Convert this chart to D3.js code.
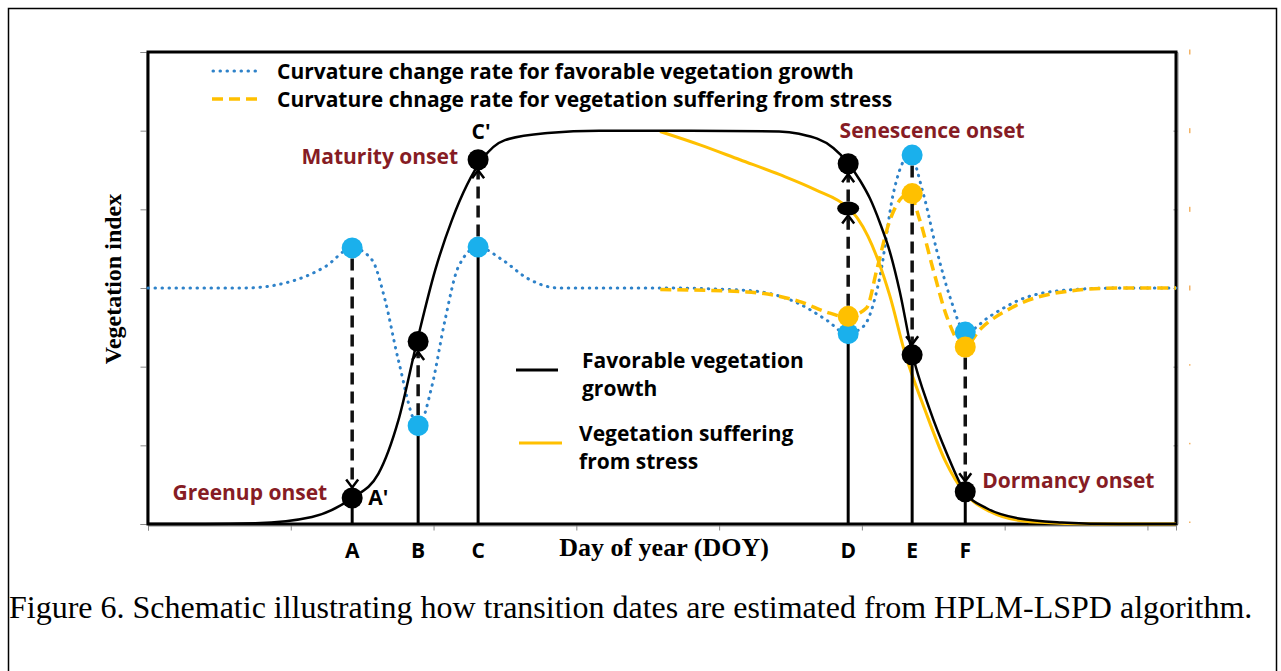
<!DOCTYPE html>
<html>
<head>
<meta charset="utf-8">
<script src="https://cdn.jsdelivr.net/npm/d3@7/dist/d3.min.js"></script>
<style>
  body { margin: 0; background: #fff; }
  svg { display: block; }
</style>
</head>
<body>
<div id="chart"></div>
<script>
// axis ticks
var doyTicks = [0, 50, 100, 150, 200, 250, 300, 350];
var viTicks = [0, 1, 2, 3, 4, 5, 6];

// favorable vegetation growth (black)
var favDoy = [0, 20, 37.6, 57.4, 71.4, 80.7, 87.7, 94.2, 100.6, 106.4, 116.9, 125, 140, 158, 190, 221, 228, 240, 245.1, 249.3, 252.8, 256.3, 259.8, 263.3, 267.5, 273.8, 279.7, 286, 293.7, 305, 320, 340, 360];
var favVi = [0.0, 0.0, 0.01, 0.09, 0.33, 0.64, 1.32, 2.32, 3.23, 3.86, 4.63, 4.88, 4.97, 5.0, 5.0, 4.99, 4.96, 4.78, 4.59, 4.37, 4.14, 3.83, 3.46, 2.95, 2.19, 1.45, 0.90, 0.41, 0.20, 0.07, 0.02, 0.0, 0.0];

// vegetation suffering from stress (yellow)
var stressDoy = [179.3, 193.3, 207.3, 221.3, 233.6, 245.1, 248.6, 252.1, 255.6, 259.8, 265.1, 272.1, 279.1, 286.1, 294.8, 308.8, 333.3, 360];
var stressVi = [4.99, 4.82, 4.63, 4.44, 4.25, 4.02, 3.88, 3.66, 3.36, 2.90, 2.17, 1.45, 0.81, 0.39, 0.16, 0.03, 0.0, 0.0];

// curvature change rate, favorable (blue dotted)
var favRateDoy = [0, 34, 51.6, 62, 71.6, 78.4, 83, 87.7, 94.7, 99.4, 104, 108.7, 115.5, 124, 133, 144, 180, 209.7, 228, 237.7, 244.7, 250.5, 256.3, 261, 266.8, 271.5, 276.2, 280.8, 286.4, 294.8, 305.3, 320.4, 340, 360];
var favRateVi = [3.0, 3.0, 3.1, 3.27, 3.51, 3.36, 2.85, 2.08, 1.25, 1.75, 2.59, 3.27, 3.52, 3.36, 3.12, 3.0, 3.0, 2.97, 2.8, 2.59, 2.42, 2.51, 3.14, 4.2, 4.69, 4.2, 3.48, 2.89, 2.44, 2.64, 2.85, 2.97, 3.0, 3.0];

// curvature change rate, stress (yellow dashed)
var stressRateDoy = [179.4, 209.7, 228, 238.8, 244.7, 251.7, 255.2, 259.8, 266.6, 270.3, 275, 279.7, 286, 291.3, 303, 320.4, 340, 360];
var stressRateVi = [2.98, 2.95, 2.83, 2.68, 2.63, 2.75, 3.23, 3.86, 4.2, 3.86, 3.23, 2.64, 2.25, 2.47, 2.76, 2.95, 3.0, 3.0];

// transition dates
var phaseNames = ['A', 'B', 'C', 'D', 'E', 'F'];
var phaseDoy = [71.5, 94.6, 115.6, 245.2, 267.6, 286.2];
var favRateAt = [3.51, 1.25, 3.52, 2.42, 4.69, 2.44];
var stressRateAt = [null, null, null, 2.64, 4.20, 2.25];
var favViAt = [0.33, 2.32, 4.63, 4.58, 2.15, 0.41];
var stressViAtD = 4.01;

// dashed arrows: doy, from, to
var arrowDoy = [71.5, 94.6, 115.6, 245.2, 245.2, 267.6, 286.2];
var arrowFrom = [3.51, 1.25, 3.52, 2.64, 4.01, 4.69, 2.25];
var arrowTo = [0.33, 2.32, 4.63, 4.01, 4.58, 2.15, 0.41];

var width = 1281, height = 671;
var margin = {top: 52, right: 105, bottom: 147, left: 148};

var blue = '#1ab0ec', blueDot = '#2e82c9', yellow = '#ffc000', red = '#861c24';
var sans = "'Open Sans', 'Noto Sans', sans-serif";
var serif = "'Liberation Serif', 'Times New Roman', serif";

var svg = d3.select('#chart').append('svg')
    .attr('width', width)
    .attr('height', height);

svg.append('rect')
    .attr('width', width).attr('height', height)
    .attr('fill', '#fff');

// outer figure border
svg.append('rect')
    .attr('x', 8.5).attr('y', 8.5)
    .attr('width', 1268).attr('height', 700)
    .attr('fill', 'none')
    .attr('stroke', '#000')
    .attr('stroke-width', 1.5);

var x = d3.scaleLinear()
    .domain([0, 360])
    .range([margin.left, width - margin.right]);

var y = d3.scaleLinear()
    .domain([0, 6])
    .range([height - margin.bottom, margin.top]);

var defs = svg.append('defs');
defs.append('marker')
    .attr('id', 'chev')
    .attr('viewBox', '-10 -8 12 16')
    .attr('markerWidth', 12)
    .attr('markerHeight', 16)
    .attr('refX', 0).attr('refY', 0)
    .attr('markerUnits', 'userSpaceOnUse')
    .attr('orient', 'auto')
    .append('path')
    .attr('d', 'M-8,-6L0,0L-8,6')
    .attr('fill', 'none')
    .attr('stroke', '#000')
    .attr('stroke-width', 2.5);

// axes (grey ticks, no labels)
var gLeft = svg.append('g')
    .attr('transform', `translate(${margin.left - 1.5},0)`)
    .call(d3.axisLeft(y).tickValues(viTicks).tickSize(6).tickFormat(''));
var gBottom = svg.append('g')
    .attr('transform', `translate(0,${y(0) + 1.5})`)
    .call(d3.axisBottom(x).tickValues(doyTicks).tickSize(5).tickFormat(''));
var gRight = svg.append('g')
    .attr('transform', `translate(${x(360) + 1.5},0)`)
    .call(d3.axisLeft(y).tickValues(viTicks).tickSize(4).tickFormat(''));
[gLeft, gBottom, gRight].forEach(function(g) {
    g.selectAll('path, line').attr('stroke', '#888').attr('stroke-width', 1);
});

// faint orange tick-label specks on the right
svg.append('g').selectAll('rect')
    .data(viTicks)
    .join('rect')
    .attr('x', x(360) + 13)
    .attr('y', d => y(d) - 2.5)
    .attr('width', 1.5)
    .attr('height', d => d >= 3 ? 5 : 1.5)
    .attr('fill', '#f0a040')
    .attr('opacity', 0.8);

// plot frame
svg.append('rect')
    .attr('x', x(0)).attr('y', y(6))
    .attr('width', x(360) - x(0))
    .attr('height', y(0) - y(6))
    .attr('fill', 'none')
    .attr('stroke', '#000')
    .attr('stroke-width', 3);

function series(xs, ys) {
    return xs.map(function(d, i) { return [d, ys[i]]; });
}
var line = d3.line()
    .x(d => x(d[0]))
    .y(d => y(d[1]))
    .curve(d3.curveMonotoneX);

var plot = svg.append('g');

// curvature rates
plot.append('path')
    .datum(series(favRateDoy, favRateVi))
    .attr('d', line)
    .attr('fill', 'none')
    .attr('stroke', blueDot)
    .attr('stroke-width', 3)
    .attr('stroke-linecap', 'round')
    .attr('stroke-dasharray', '0.5,6.5');
plot.append('path')
    .datum(series(stressRateDoy, stressRateVi))
    .attr('d', line)
    .attr('fill', 'none')
    .attr('stroke', yellow)
    .attr('stroke-width', 3.5)
    .attr('stroke-dasharray', '11,6');

// VI curves
plot.append('path')
    .datum(series(stressDoy, stressVi))
    .attr('d', line)
    .attr('fill', 'none')
    .attr('stroke', yellow)
    .attr('stroke-width', 3);
plot.append('path')
    .datum(series(favDoy, favVi))
    .attr('d', line)
    .attr('fill', 'none')
    .attr('stroke', '#000')
    .attr('stroke-width', 2.5);

// stems from the axis to the lowest marker
plot.selectAll('.stem')
    .data(phaseDoy)
    .join('line')
    .attr('class', 'stem')
    .attr('x1', d => x(d)).attr('x2', d => x(d))
    .attr('y1', y(0))
    .attr('y2', function(d, i) {
        var vals = [favRateAt[i], favViAt[i]];
        if (stressRateAt[i] != null) vals.push(stressRateAt[i]);
        return y(d3.min(vals));
    })
    .attr('stroke', '#000')
    .attr('stroke-width', 3);

// dashed arrows
var rad = 10.5;
plot.selectAll('.arrow')
    .data(arrowDoy)
    .join('line')
    .attr('class', 'arrow')
    .attr('x1', d => x(d)).attr('x2', d => x(d))
    .attr('y1', function(d, i) {
        var s = y(arrowTo[i]) > y(arrowFrom[i]) ? 1 : -1;
        var r = arrowFrom[i] === stressViAtD ? 7 : rad;
        return y(arrowFrom[i]) + s * r;
    })
    .attr('y2', function(d, i) {
        var s = y(arrowTo[i]) > y(arrowFrom[i]) ? 1 : -1;
        var r = arrowTo[i] === stressViAtD ? 7 : rad;
        return y(arrowTo[i]) - s * r;
    })
    .attr('stroke', '#111')
    .attr('stroke-width', 3.5)
    .attr('stroke-dasharray', '12,7')
    .attr('marker-end', 'url(#chev)');

// markers
plot.selectAll('.blueDot')
    .data(phaseDoy)
    .join('circle')
    .attr('class', 'blueDot')
    .attr('cx', d => x(d))
    .attr('cy', (d, i) => y(favRateAt[i]))
    .attr('r', rad)
    .attr('fill', blue);
plot.selectAll('.yellowDot')
    .data(phaseDoy.filter((d, i) => stressRateAt[i] != null))
    .join('circle')
    .attr('class', 'yellowDot')
    .attr('cx', d => x(d))
    .attr('cy', d => y(stressRateAt[phaseDoy.indexOf(d)]))
    .attr('r', rad)
    .attr('fill', yellow);
plot.selectAll('.blackDot')
    .data(phaseDoy)
    .join('circle')
    .attr('class', 'blackDot')
    .attr('cx', d => x(d))
    .attr('cy', (d, i) => y(favViAt[i]))
    .attr('r', rad)
    .attr('fill', '#000');
plot.append('ellipse')
    .attr('cx', x(phaseDoy[3]))
    .attr('cy', y(stressViAtD))
    .attr('rx', 11).attr('ry', 7)
    .attr('fill', '#000');

// phase letters under the axis
svg.append('g').selectAll('text')
    .data(phaseNames)
    .join('text')
    .attr('x', (d, i) => x(phaseDoy[i]))
    .attr('y', 558)
    .attr('text-anchor', 'middle')
    .attr('font-family', sans)
    .attr('font-weight', 'bold')
    .attr('font-size', '21px')
    .text(d => d);

// annotations
function note(txt, px, py, anchor, color, size) {
    return svg.append('text')
        .attr('x', px).attr('y', py)
        .attr('text-anchor', anchor)
        .attr('font-family', sans)
        .attr('font-weight', 'bold')
        .attr('font-size', (size || 21) + 'px')
        .attr('fill', color)
        .text(txt);
}
note('Maturity onset', x(phaseDoy[2]) - 20, y(favViAt[2]) + 4, 'end', red);
note("C'", x(phaseDoy[2]) + 3, y(favViAt[2]) - 21, 'middle', '#000');
note('Greenup onset', x(phaseDoy[0]) - 25, y(favViAt[0]) + 2, 'end', red);
note("A'", x(phaseDoy[0]) + 16, y(favViAt[0]) + 7, 'start', '#000');
note('Senescence onset', x(phaseDoy[4]) + 20, y(favRateAt[4]) - 17, 'middle', red);
note('Dormancy onset', x(phaseDoy[5]) + 17, y(favViAt[5]) - 4, 'start', red);

// top legend
var legTop = svg.append('g');
legTop.append('line')
    .attr('x1', 213).attr('x2', 262).attr('y1', 71).attr('y2', 71)
    .attr('stroke', blueDot).attr('stroke-width', 3)
    .attr('stroke-linecap', 'round').attr('stroke-dasharray', '0.5,6.5');
legTop.append('line')
    .attr('x1', 212).attr('x2', 262).attr('y1', 99).attr('y2', 99)
    .attr('stroke', yellow).attr('stroke-width', 3.5)
    .attr('stroke-dasharray', '11,6');
note('Curvature change rate for favorable vegetation growth', 277, 79, 'start', '#000');
note('Curvature chnage rate for vegetation suffering from stress', 277, 107, 'start', '#000');

// middle legend
svg.append('line')
    .attr('x1', 516).attr('x2', 558).attr('y1', 370).attr('y2', 370)
    .attr('stroke', '#000').attr('stroke-width', 3);
svg.append('line')
    .attr('x1', 519).attr('x2', 562).attr('y1', 443).attr('y2', 443)
    .attr('stroke', yellow).attr('stroke-width', 3);
note('Favorable vegetation', 582, 368, 'start', '#000');
note('growth', 582, 396, 'start', '#000');
note('Vegetation suffering', 579, 441, 'start', '#000');
note('from stress', 579, 469, 'start', '#000');

// axis titles
svg.append('text')
    .attr('transform', 'translate(121,279) rotate(-90)')
    .attr('text-anchor', 'middle')
    .attr('font-family', serif)
    .attr('font-weight', 'bold')
    .attr('font-size', '24px')
    .text('Vegetation index');
svg.append('text')
    .attr('x', 664).attr('y', 556)
    .attr('text-anchor', 'middle')
    .attr('font-family', serif)
    .attr('font-weight', 'bold')
    .attr('font-size', '26px')
    .text('Day of year (DOY)');

// caption
svg.append('text')
    .attr('x', 9).attr('y', 618)
    .attr('font-family', serif)
    .attr('font-size', '32px')
    .text('Figure 6. Schematic illustrating how transition dates are estimated from HPLM-LSPD algorithm.');
</script>
</body>
</html>
